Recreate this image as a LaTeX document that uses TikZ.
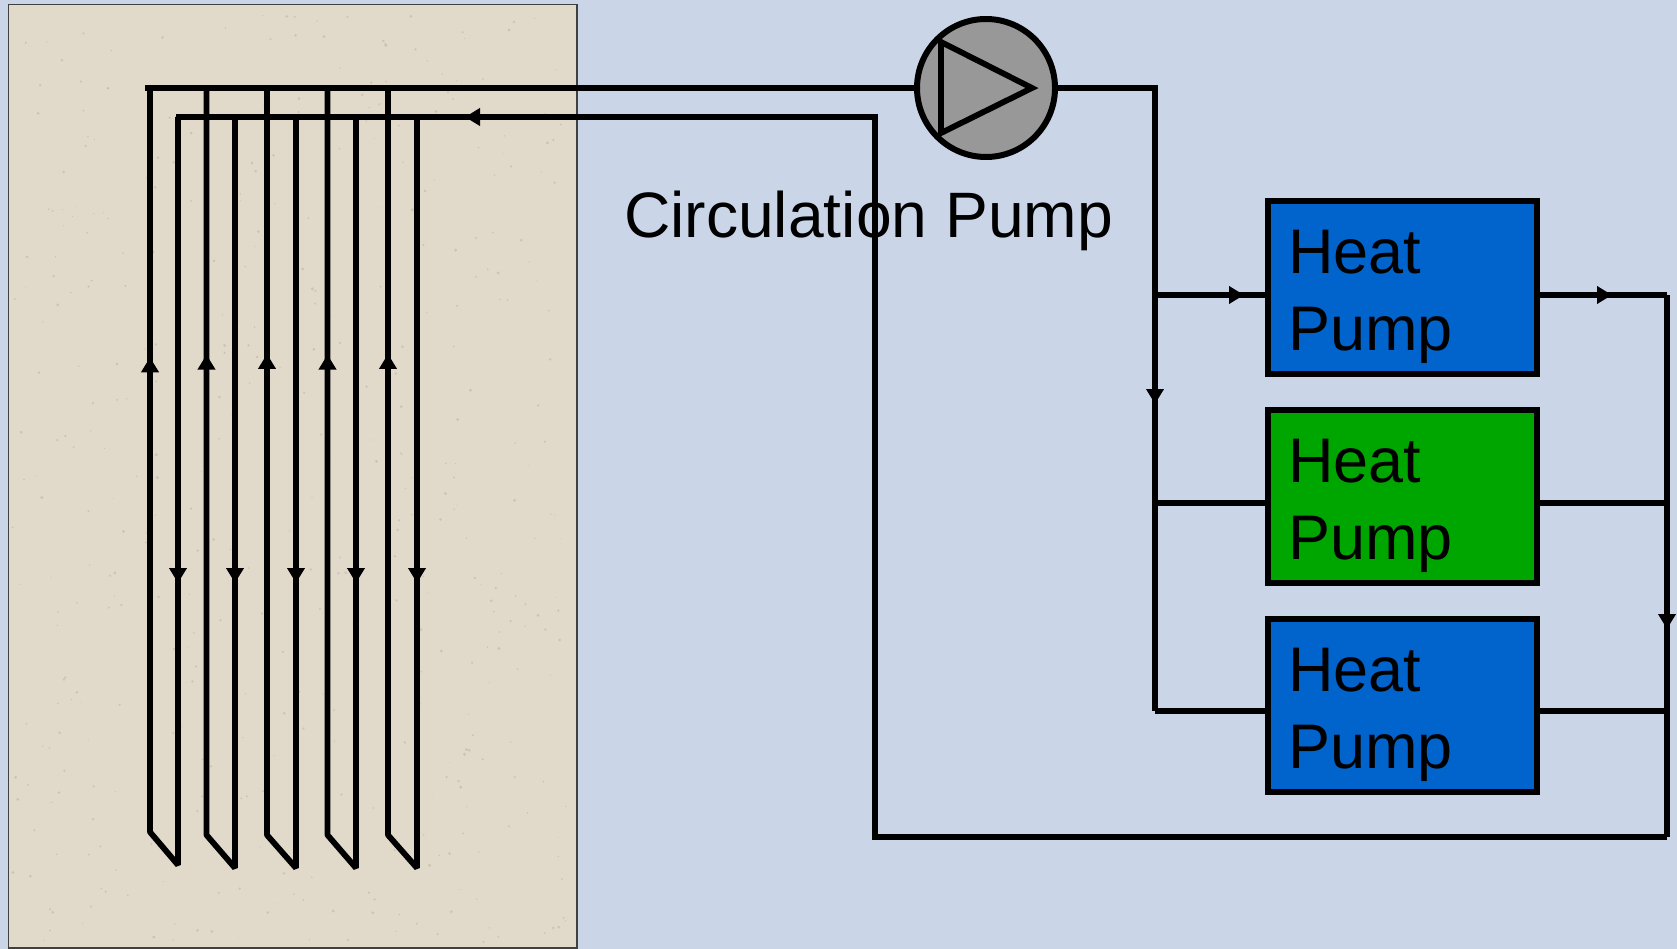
\documentclass[tikz,border=0pt]{standalone}
\usepackage{fontspec}
\setmainfont{Liberation Sans}
\usetikzlibrary{arrows.meta,decorations.markings,positioning,calc}
\definecolor{panel}{HTML}{CAD5E8}
\definecolor{sand}{HTML}{E1D9CA}
\definecolor{speck}{HTML}{C4BAA8}
\definecolor{hpblue}{HTML}{0064CC}
\definecolor{hpgreen}{HTML}{00A600}
\definecolor{pumpgray}{HTML}{989898}
\tikzstyle{pipe}=[line width=5.8pt,black]
\tikzstyle{tube}=[pipe,line join=bevel]
\tikzstyle{heat pump}=[rectangle,draw=black,line width=6pt,minimum width=269pt,minimum height=173pt,inner xsep=20pt,inner ysep=0pt,text width=229pt,align=left,text=black,font=\fontsize{63}{77}\selectfont]
\tikzstyle{pump}=[circle,draw=black,fill=pumpgray,line width=6pt,minimum size=138pt,inner sep=0pt]
\tikzset{>={Triangle[length=15pt,width=17pt]},
  flow at/.style={postaction={decorate,decoration={markings,mark=at position #1 with {\arrow{>}}}}}}
\newcommand{\hplabel}{Heat\rule{0pt}{62.5pt}\\Pump}
\begin{document}
\begin{tikzpicture}[x=1pt,y=-1pt]
\useasboundingbox (0,0) rectangle (1677,949);
\fill [panel] (0,0) rectangle (1677,949);

% ground
\node (field) [rectangle,draw=black!75,fill=sand,line width=1.5pt,minimum width=568.5pt,minimum height=943.5pt,inner sep=0pt] at (292.75,476.25) {};
\pgfmathsetseed{42}
\foreach \i in {1,...,450} {
  \fill [speck,opacity=0.7] ({12+rnd*560},{10+rnd*932}) circle ({0.5+rnd*1.1});
}

% pump and heat pumps
\node (pump) [pump] at (986,88) {};
\coordinate (vane a) at (941,42);
\coordinate (vane b) at (941,133);
\coordinate (vane c) at (1032,88);
\draw [pipe,miter limit=4] (vane a) -- (vane c) -- (vane b) -- cycle;
\node (hp1) [heat pump,fill=hpblue] at (1402.5,287.5) {\hplabel};
\node (hp2) [heat pump,fill=hpgreen,below=30pt of hp1] {\hplabel};
\node (hp3) [heat pump,fill=hpblue,below=30pt of hp2] {\hplabel};
\node (caption) [anchor=base west,inner sep=0pt,font=\fontsize{64.2}{74}\selectfont] at (624,237.5) {Circulation Pump};

% supply
\coordinate (sup start) at (145,88);
\coordinate (bus top) at (1155,88);
\coordinate (bus bottom) at (1155,711);
\coordinate (in1) at (1155,295);
\coordinate (in2) at (1155,503);
\draw [pipe] (sup start) -- (pump.west);
\draw [pipe,flow at=413pt] (pump.east) -- (bus top) -- (bus bottom);
\draw [pipe,flow at=89pt] (in1) -- (in1 -| hp1.west);
\draw [pipe] (in2) -- (in2 -| hp2.west);
\draw [pipe] (bus bottom) -- (bus bottom -| hp3.west);

% return
\coordinate (out1) at (1667,295);
\coordinate (out2) at (1667,503);
\coordinate (out3) at (1667,711);
\coordinate (ret corner) at (1667,837);
\coordinate (ret low) at (875,837);
\coordinate (ret high) at (875,117);
\coordinate (ret end) at (176,117);
\draw [pipe,flow at=72pt] (out1 -| hp1.east) -- (out1);
\draw [pipe] (out2 -| hp2.east) -- (out2);
\draw [pipe] (out3 -| hp3.east) -- (out3);
\draw [pipe,flow at=334pt] (out1) -- (ret corner);
\draw [pipe,flow at=1922pt] (ret corner) -- (ret low) -- (ret high) -- (ret end);

% boreholes
\coordinate (d1) at (178,117); \coordinate (b1) at (178,865); \coordinate (a1) at (150,832); \coordinate (u1) at (150,88);
\coordinate (d2) at (235,117); \coordinate (b2) at (235,868); \coordinate (a2) at (206.5,835); \coordinate (u2) at (206.5,88);
\coordinate (d3) at (296,117); \coordinate (b3) at (296,868); \coordinate (a3) at (267,835); \coordinate (u3) at (267,88);
\coordinate (d4) at (356,117); \coordinate (b4) at (356,868); \coordinate (a4) at (327.5,835); \coordinate (u4) at (327.5,88);
\coordinate (d5) at (417,117); \coordinate (b5) at (417,868); \coordinate (a5) at (388,835); \coordinate (u5) at (388,88);
\draw [tube,flow at=466pt,flow at=1266pt] (d1) -- (b1) -- (a1) -- (u1);
\draw [tube,flow at=466pt,flow at=1275pt] (d2) -- (b2) -- (a2) -- (u2);
\draw [tube,flow at=466pt,flow at=1276pt] (d3) -- (b3) -- (a3) -- (u3);
\draw [tube,flow at=466pt,flow at=1275pt] (d4) -- (b4) -- (a4) -- (u4);
\draw [tube,flow at=466pt,flow at=1276pt] (d5) -- (b5) -- (a5) -- (u5);

\end{tikzpicture}
\end{document}
